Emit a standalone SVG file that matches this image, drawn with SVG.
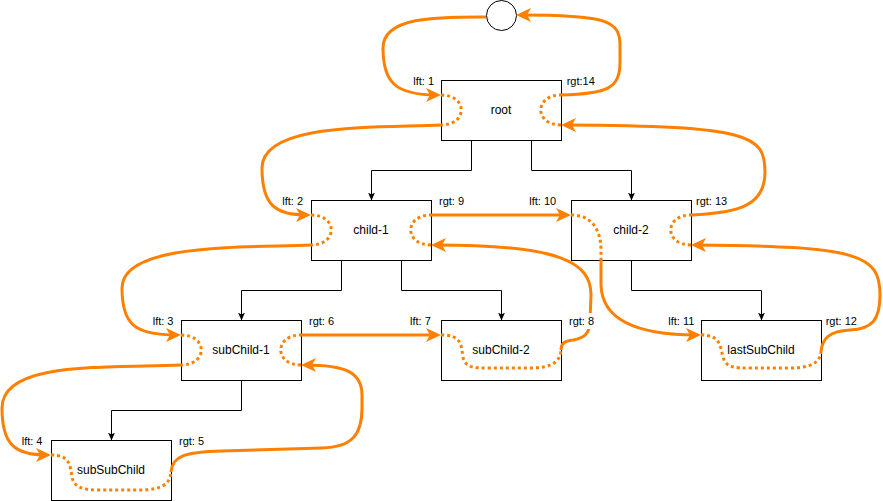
<svg xmlns="http://www.w3.org/2000/svg" width="883" height="501" viewBox="0 0 883 501">
<style>
.box{fill:#fff;stroke:#000;stroke-width:1}
.nt{font-family:"Liberation Sans",Helvetica,Arial,sans-serif;font-size:12px;fill:#000;text-anchor:middle}
.lb{font-family:"Liberation Sans",Helvetica,Arial,sans-serif;font-size:11px;fill:#000}
.e{fill:none;stroke:#000;stroke-width:1;marker-end:url(#ba)}
.o{fill:none;stroke:#FF8000;stroke-width:3}
.oa{marker-end:url(#oa)}
.d{fill:none;stroke:#FF8000;stroke-width:3;stroke-dasharray:3 3}
</style>
<defs>
<marker id="ba" markerUnits="userSpaceOnUse" markerWidth="8" markerHeight="8" refX="8" refY="3.5" orient="auto">
<path d="M0,0 L8,3.5 L0,7 L2,3.5 Z" fill="#000"/>
</marker>
<marker id="oa" markerUnits="userSpaceOnUse" markerWidth="16" markerHeight="14" refX="11" refY="7" orient="auto">
<path d="M0,0 L15,7 L0,14 L4,7 Z" fill="#FF8000"/>
</marker>
</defs>
<rect width="883" height="501" fill="#fff"/>

<g id="top"><circle cx="501.5" cy="15.5" r="15" class="box"/></g>
<g id="root"><rect x="441.5" y="80.5" width="120" height="60" class="box"/><text x="501" y="114" class="nt">root</text></g>
<g id="child-1"><rect x="311.5" y="200.5" width="120" height="60" class="box"/><text x="371" y="234" class="nt">child-1</text></g>
<g id="child-2"><rect x="571.5" y="200.5" width="120" height="60" class="box"/><text x="631" y="234" class="nt">child-2</text></g>
<g id="subChild-1"><rect x="181.5" y="320.5" width="120" height="60" class="box"/><text x="241" y="354" class="nt">subChild-1</text></g>
<g id="subChild-2"><rect x="441.5" y="320.5" width="120" height="60" class="box"/><text x="501" y="354" class="nt">subChild-2</text></g>
<g id="lastSubChild"><rect x="701.5" y="320.5" width="120" height="60" class="box"/><text x="761" y="354" class="nt">lastSubChild</text></g>
<g id="subSubChild"><rect x="51.5" y="440.5" width="120" height="60" class="box"/><text x="111" y="474" class="nt">subSubChild</text></g>

<g id="connectors">
<path class="e" d="M471.5,140.5 V170.5 H371.5 V200.5"/>
<path class="e" d="M531.5,140.5 V170.5 H631.5 V200.5"/>
<path class="e" d="M341.5,260.5 V290.5 H241.5 V320.5"/>
<path class="e" d="M401.5,260.5 V290.5 H501.5 V320.5"/>
<path class="e" d="M631.5,260.5 V290.5 H761.5 V320.5"/>
<path class="e" d="M241.5,380.5 V410.5 H111.5 V440.5"/>

<path class="o oa" d="M486,17 C440,17 383,16 383,48 C383,82 395,95 437,95"/>
<path class="d" d="M441,95 C468,95 468,125 441,125"/>
<path class="o oa" d="M441,125 C380,128 262,122 262,168 C262,205 275,215 307,215"/>
<path class="d" d="M311,215 C338,215 338,245 311,245"/>
<path class="o oa" d="M311,245 C250,248 122,242 122,288 C122,325 135,335 177,335"/>
<path class="d" d="M181,335 C208,335 208,365 181,365"/>
<path class="o oa" d="M181,365 C100,368 2,362 2,408 C2,445 15,455 47,455"/>
<path class="d" d="M51,455 C70,455 70,465 72,477 C74,488 84,490 100,490 L140,490 C162,490 170,484 171,472"/>
<path class="o oa" d="M171,472 C172,456 185,452 222,451 L322,448 C352,447 362,435 362,408 L362,395 C362,372 345,365 305,365"/>
<path class="d" d="M301,365 C274,365 274,335 301,335"/>
<path class="o oa" d="M301,335 L437,335"/>
<path class="d" d="M441,335 C462,335 461,345 463,357 C465,368 475,368 490,368 L530,368 C552,368 560,362 561,350"/>
<path class="o oa" d="M561,350 C561,343 565,341 573,340 C584,338 590,334 590,320 L591,295 C591,262 560,245 435,245"/>
<path class="d" d="M431,245 C404,245 404,215 431,215"/>
<path class="o oa" d="M431,215 L567,215"/>
<path class="d" d="M571,215 C592,215 601,230 601,250 L601,260"/>
<path class="o oa" d="M601,260 L601,285 C602,322 640,335 697,335"/>
<path class="d" d="M701,335 C720,335 720,345 723,357 C726,368 735,368 750,368 L790,368 C812,368 820,362 821,352"/>
<path class="o oa" d="M821,352 C822,338 830,331 850,330 C872,329 880,320 880,295 C880,255 860,246 695,245"/>
<path class="d" d="M691,245 C664,245 664,215 691,215"/>
<path class="o oa" d="M691,215 C740,213 765,205 765,172 C765,135 750,126 565,125"/>
<path class="d" d="M561,125 C534,125 534,95 561,95"/>
<path class="o oa" d="M561,95 C608,94 620,88 620,62 L620,45 C620,20 605,15 520,15"/>
</g>

<g id="labels">
<text class="lb" x="413.3" y="85">lft: 1</text>
<text class="lb" x="566.7" y="85">rgt:14</text>
<text class="lb" x="282.3" y="205">lft: 2</text>
<text class="lb" x="439" y="205">rgt: 9</text>
<text class="lb" x="529.3" y="205">lft: 10</text>
<text class="lb" x="696" y="205">rgt: 13</text>
<text class="lb" x="152.7" y="325">lft: 3</text>
<text class="lb" x="309" y="325">rgt: 6</text>
<text class="lb" x="410" y="325">lft: 7</text>
<rect x="568" y="313" width="29" height="16" fill="#fff"/>
<text class="lb" x="569" y="325">rgt: 8</text>
<text class="lb" x="668.3" y="325">lft: 11</text>
<text class="lb" x="825.7" y="325">rgt: 12</text>
<text class="lb" x="21.7" y="445">lft: 4</text>
<text class="lb" x="179" y="445">rgt: 5</text>
</g>
</svg>
